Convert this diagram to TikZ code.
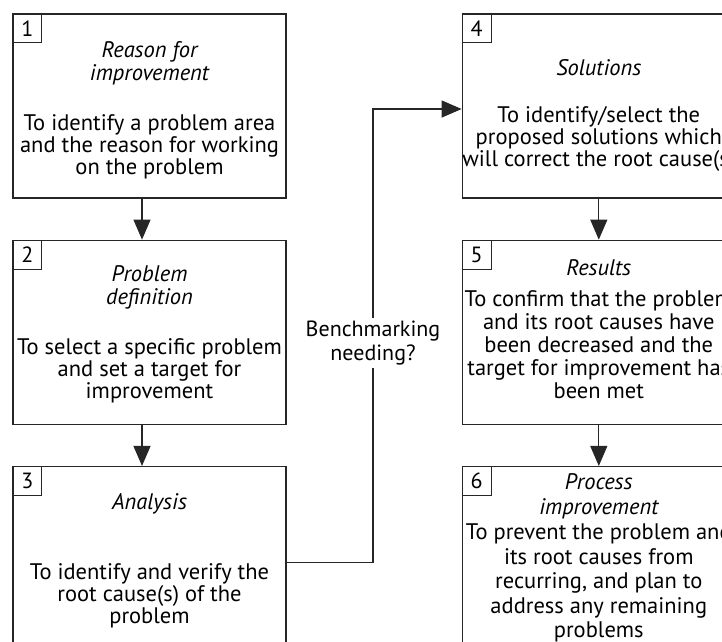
\documentclass[tikz,border=0pt]{standalone}
\usepackage{fontspec}
\setmainfont{PT Sans}
\usetikzlibrary{positioning,arrows.meta}
\tikzstyle{stage} = [draw=black!85, rectangle, line width=1.3pt, minimum width=273pt, minimum height=184pt, inner sep=0pt]
\tikzstyle{number} = [draw=black!85, rectangle, line width=1pt, minimum size=29pt, inner sep=0pt, anchor=north west, font=\fontsize{22}{22}\selectfont]
\tikzstyle{title} = [align=center, font=\fontsize{22.5}{23}\selectfont\itshape]
\tikzstyle{body} = [align=center, font=\fontsize{22.5}{22}\selectfont]
\tikzstyle{question} = [fill=white, align=center, inner sep=3pt, font=\fontsize{22}{24}\selectfont]
\tikzstyle{flow} = [draw=black!85, line width=1.1pt]

\begin{document}
\begin{tikzpicture}[x=1pt, y=-1pt, >={Triangle[length=20pt,width=17pt]}]
		\useasboundingbox (0,0) rectangle (722,641);
		\clip (0,0) rectangle (722,641);
		% left column
		\node [stage] (stage1) at (149.5,106) {};
		\node [stage, below=41pt of stage1] (stage2) {};
		\node [stage, below=41pt of stage2] (stage3) {};
		% right column
		\node [stage, right=175pt of stage1] (stage4) {};
		\node [stage, below=41pt of stage4] (stage5) {};
		\node [stage, below=41pt of stage5] (stage6) {};

		\node [number] (num1) at (stage1.north west) {1};
		\node [number] (num2) at (stage2.north west) {2};
		\node [number] (num3) at (stage3.north west) {3};
		\node [number] (num4) at (stage4.north west) {4};
		\node [number] (num5) at (stage5.north west) {5};
		\node [number] (num6) at (stage6.north west) {6};

		\node [title] (title1) at ([yshift=-49.5pt]stage1.north) {Reason for\\improvement};
		\node [body] (body1) at ([yshift=-133pt]stage1.north) {To identify a problem area\\and the reason for working\\on the problem};
		\node [title] (title2) at ([yshift=-47.5pt]stage2.north) {Problem\\definition};
		\node [body] (body2) at ([yshift=-131.5pt]stage2.north) {To select a specific problem\\and set a target for\\improvement};
		\node [title] (title3) at ([yshift=-38pt]stage3.north) {Analysis};
		\node [body] (body3) at ([yshift=-129.5pt]stage3.north) {To identify and verify the\\root cause(s) of the\\problem};
		\node [title] (title4) at ([yshift=-54pt]stage4.north) {Solutions};
		\node [body] (body4) at ([yshift=-126pt]stage4.north) {To identify/select the\\proposed solutions which\\will correct the root cause(s)};
		\node [title] (title5) at ([yshift=-28pt]stage5.north) {Results};
		\node [body, font=\fontsize{22.5}{23}\selectfont] (body5) at ([yshift=-105pt]stage5.north) {To confirm that the problem\\and its root causes have\\been decreased and the\\target for improvement has\\been met};
		\node [title, font=\fontsize{22.5}{25}\selectfont\itshape] (title6) at ([yshift=-30.5pt]stage6.north) {Process\\improvement};
		\node [body, font=\fontsize{22.5}{24.5}\selectfont] (body6) at ([yshift=-117pt]stage6.north) {To prevent the problem and\\its root causes from\\recurring, and plan to\\address any remaining\\problems};

		\draw [flow, ->] ([xshift=-7.5pt]stage1.south) -- ([xshift=-7.5pt]stage2.north);
		\draw [flow, ->] ([xshift=-7.5pt]stage2.south) -- ([xshift=-7.5pt]stage3.north);
		\draw [flow, ->] (stage4) -- (stage5);
		\draw [flow, ->] (stage5) -- (stage6);

		\coordinate (bend) at (373,109);
		\draw [flow, ->] ([yshift=-4pt]stage3.east) -| (bend) -- ([yshift=-3pt]stage4.west);
		\node [question] (bench) at (373,343) {Benchmarking\\needing?};
	\end{tikzpicture}
\end{document}
